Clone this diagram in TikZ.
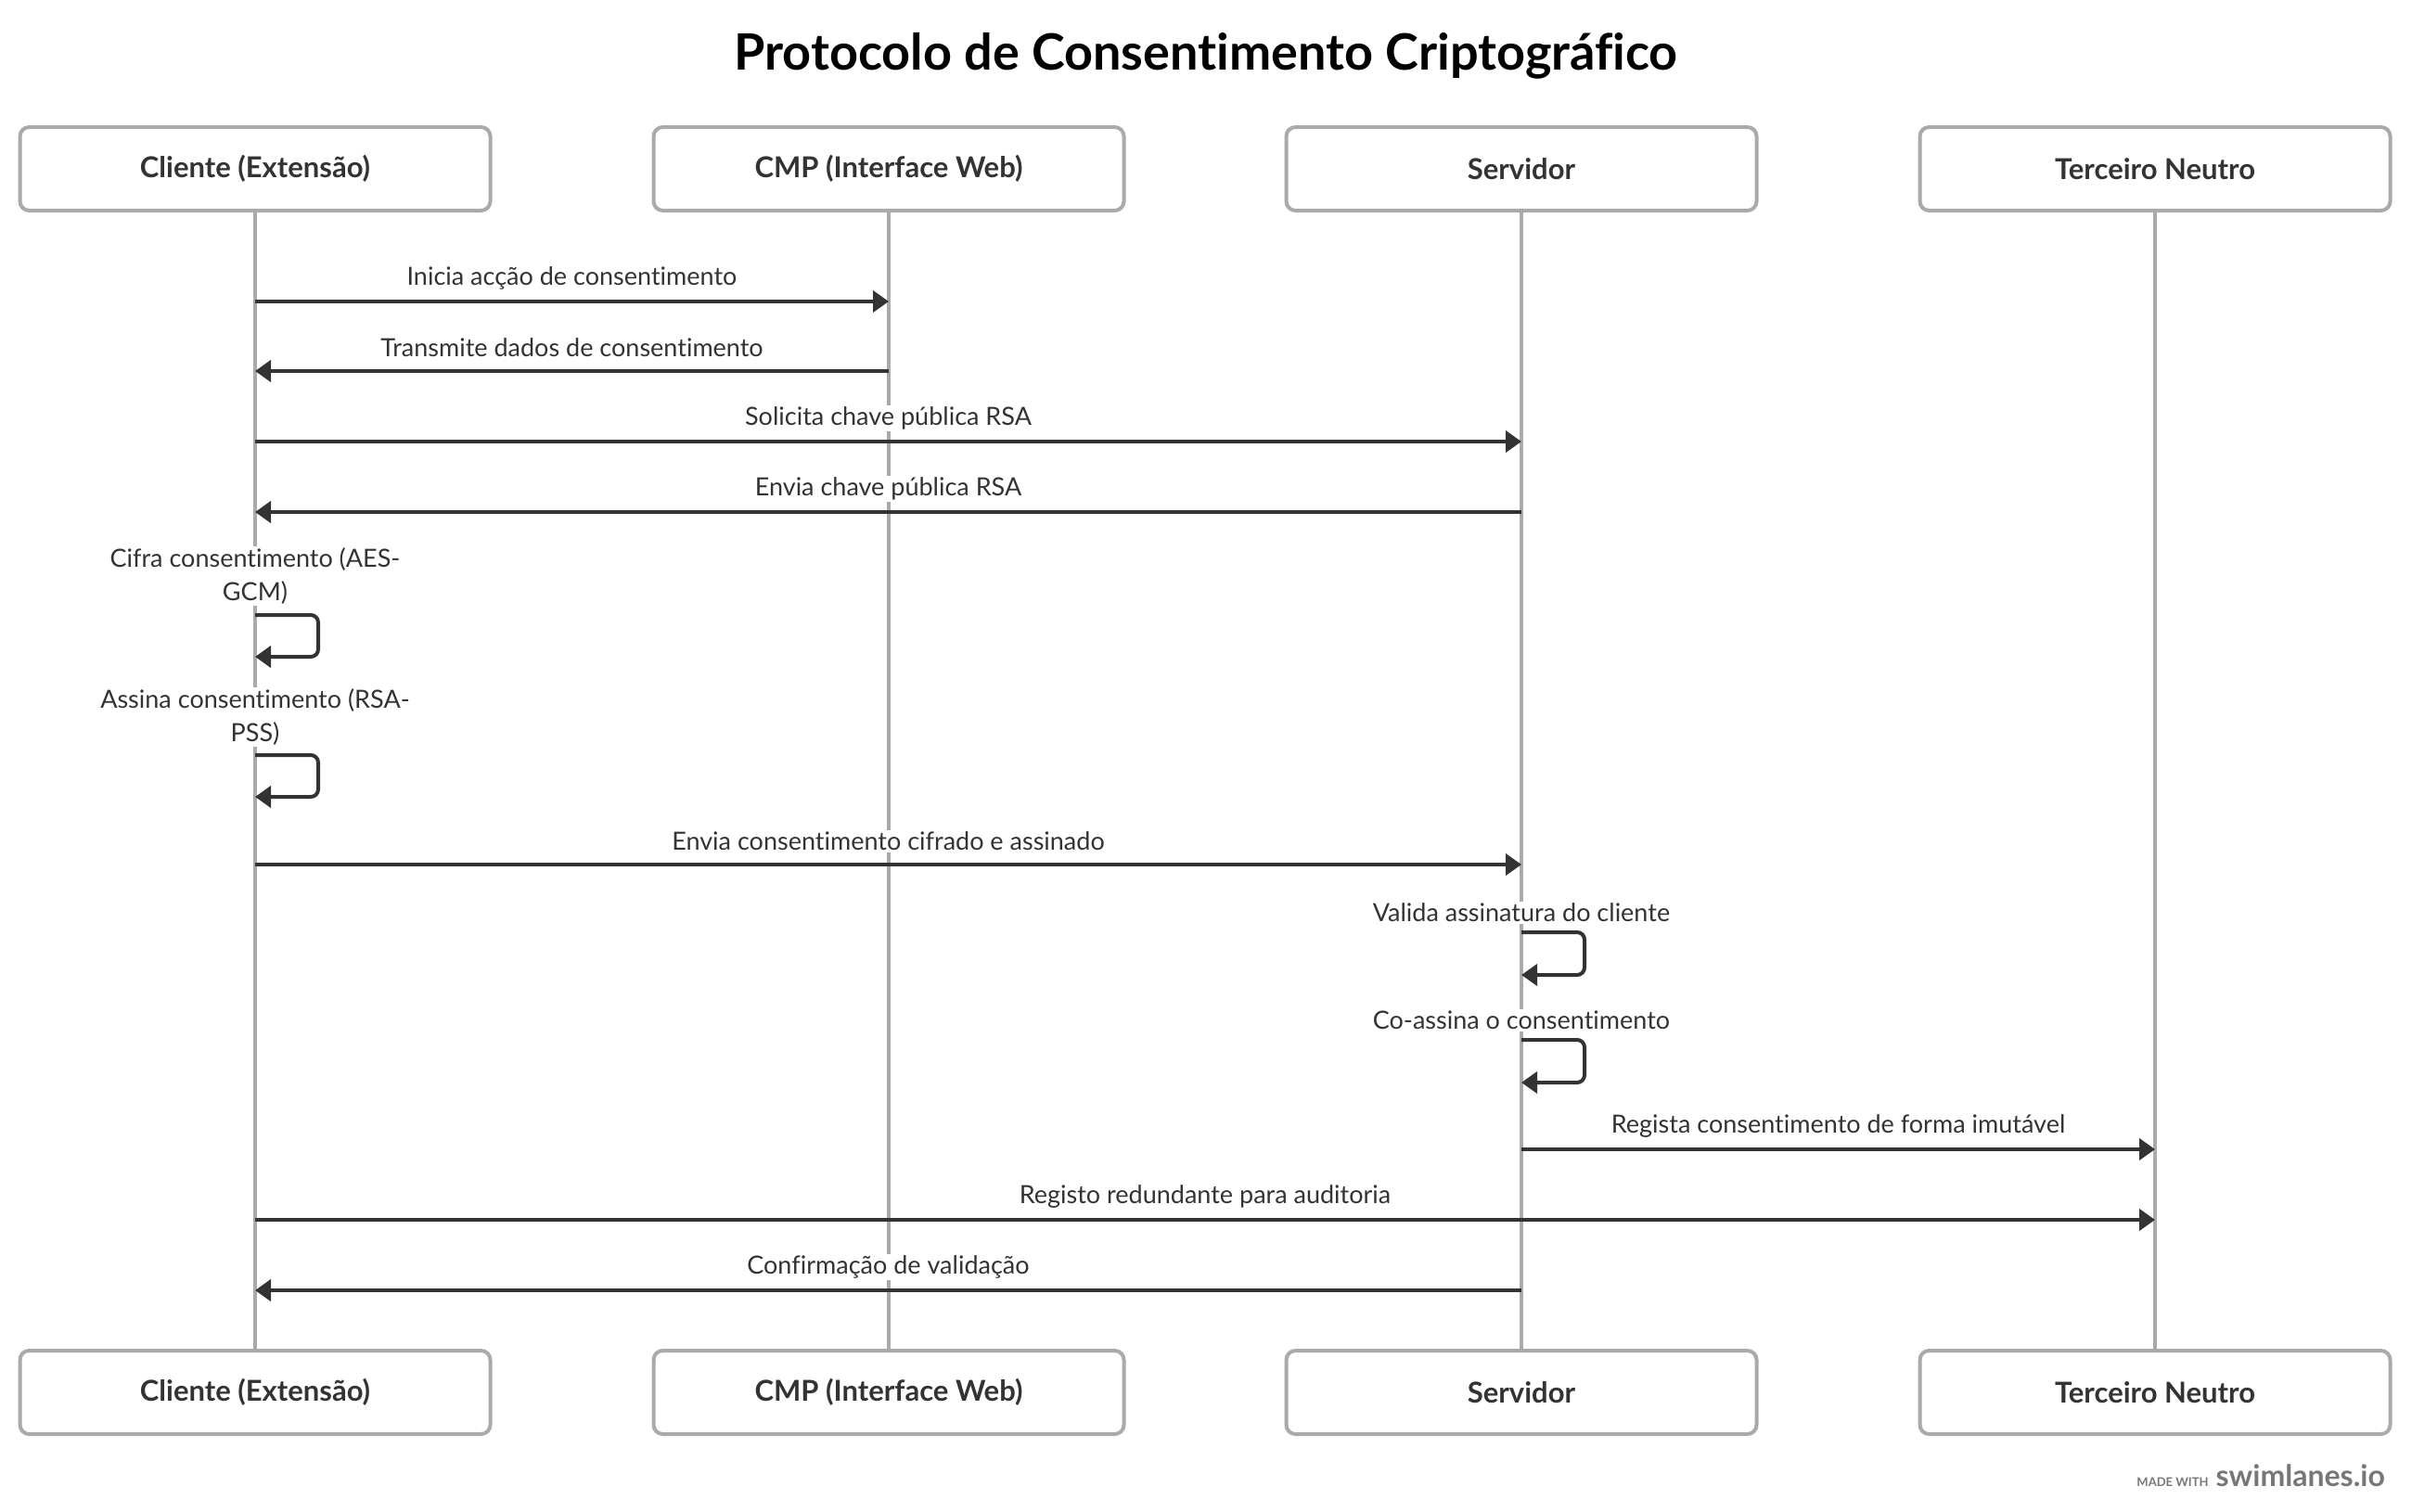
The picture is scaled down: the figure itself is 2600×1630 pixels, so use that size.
\documentclass[tikz,border=0pt]{standalone}
\usepackage{fontspec}
\setmainfont{Lato}[Ligatures=NoCommon]
\usetikzlibrary{arrows.meta}
\usetikzlibrary{calc}

\definecolor{lane}{HTML}{AAAAAA}
\definecolor{ink}{HTML}{333333}
\definecolor{brand}{HTML}{777777}

\tikzset{
	actor/.style={draw=lane, line width=4pt, rounded corners=10pt, fill=white,
		minimum width=507pt, minimum height=90pt, text=ink,
		font=\fontsize{31}{36}\selectfont\bfseries},
	life/.style={draw=lane, line width=4pt},
	msg/.style={draw=ink, line width=4pt, -{Triangle[length=17pt,width=23pt]}},
	selfmsg/.style={msg, rounded corners=8pt},
	lbl/.style={fill=white, text=ink, inner sep=2pt, align=center,
		font=\fontsize{27}{36}\selectfont},
}

\begin{document}
\begin{tikzpicture}[x=1pt, y=-1pt]
	\useasboundingbox (0,0) rectangle (2600,1630);
	
	\node[text=black, font=\fontsize{54}{60}\selectfont\bfseries] (title) at (1300,60) {Protocolo de Consentimento Criptográfico};
	
	% actors, top and bottom
	\node[actor] (cli) at (275,182) {Cliente (Extensão)};
	\node[actor] (cmp) at (958,182) {CMP (Interface Web)};
	\node[actor] (srv) at (1640,182) {Servidor};
	\node[actor] (ter) at (2323,182) {Terceiro Neutro};
	
	\node[actor] (cliB) at (275,1501) {Cliente (Extensão)};
	\node[actor] (cmpB) at (958,1501) {CMP (Interface Web)};
	\node[actor] (srvB) at (1640,1501) {Servidor};
	\node[actor] (terB) at (2323,1501) {Terceiro Neutro};
	
	% lifelines
	\draw[life] (cli) -- (cliB);
	\draw[life] (cmp) -- (cmpB);
	\draw[life] (srv) -- (srvB);
	\draw[life] (ter) -- (terB);
	
	% messages
	\draw[msg] (cli.south |- 0,325) -- (cmp.south |- 0,325) node[lbl, midway, yshift=25pt] (m1) {Inicia acção de consentimento};
	\draw[msg] (cmp.south |- 0,400) -- (cli.south |- 0,400) node[lbl, midway, yshift=25pt] (m2) {Transmite dados de consentimento};
	\draw[msg] (cli.south |- 0,476) -- (srv.south |- 0,476) node[lbl, midway, yshift=25pt] (m3) {Solicita chave pública RSA};
	\draw[msg] (srv.south |- 0,552) -- (cli.south |- 0,552) node[lbl, midway, yshift=25pt] (m4) {Envia chave pública RSA};
	
	\node[lbl] (m5) at (cli.south |- 0,621) {Cifra consentimento (AES-\\GCM)};
	\draw[selfmsg] (cli.south |- 0,663) -- ++(68,0) -- ++(0,45) -- ++(-68,0);
	
	\node[lbl] (m6) at (cli.south |- 0,773) {Assina consentimento (RSA-\\PSS)};
	\draw[selfmsg] (cli.south |- 0,814) -- ++(68,0) -- ++(0,45) -- ++(-68,0);
	
	\draw[msg] (cli.south |- 0,932) -- (srv.south |- 0,932) node[lbl, midway, yshift=25pt] (m7) {Envia consentimento cifrado e assinado};
	
	\node[lbl] (m8) at (srv.south |- 0,984) {Valida assinatura do cliente};
	\draw[selfmsg] (srv.south |- 0,1005) -- ++(68,0) -- ++(0,46) -- ++(-68,0);
	
	\node[lbl] (m9) at (srv.south |- 0,1100) {Co-assina o consentimento};
	\draw[selfmsg] (srv.south |- 0,1121) -- ++(68,0) -- ++(0,46) -- ++(-68,0);
	
	\draw[msg] (srv.south |- 0,1239) -- (ter.south |- 0,1239) node[lbl, midway, yshift=25pt] (m10) {Regista consentimento de forma imutável};
	\draw[msg] (cli.south |- 0,1315) -- (ter.south |- 0,1315) node[lbl, midway, yshift=25pt] (m11) {Registo redundante para auditoria};
	\draw[msg] (srv.south |- 0,1391) -- (cli.south |- 0,1391) node[lbl, midway, yshift=25pt] (m12) {Confirmação de validação};
	
	% footer
	\node[anchor=base east, text=brand, inner sep=0pt] (made) at (2571,1602) {{\fontsize{13}{14}\selectfont\bfseries MADE WITH}\hspace{8pt}{\fontsize{32}{36}\selectfont\bfseries swimlanes.io}};
\end{tikzpicture}
\end{document}
